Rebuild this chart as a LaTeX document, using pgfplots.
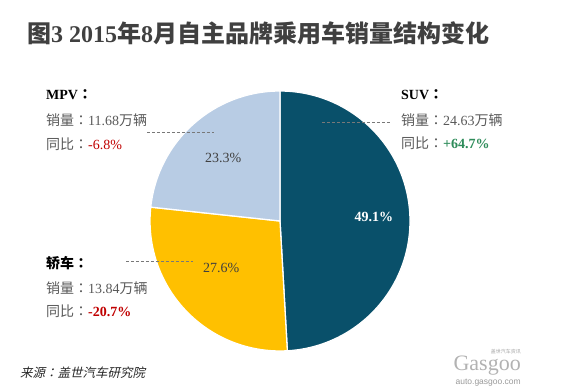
\documentclass[border=0pt]{standalone}
\usepackage{pgfplots}
\pgfplotsset{compat=1.18}
\usepackage{pgfplotstable}
\usepackage{fontspec}
\setmainfont{Liberation Serif}
\newfontfamily\cjk{Noto Sans CJK SC}
\newfontfamily\cjktc{Noto Sans CJK TC}
\newfontfamily\cjkit[FakeSlant=0.22]{Noto Sans CJK SC}
\newfontfamily\lsans{Liberation Sans}
\newcommand\cc{{\cjktc ：}}
\newcommand\ccb{{\cjktc\bfseries ：}}
\definecolor{suv}{RGB}{9,80,106}
\definecolor{car}{RGB}{255,192,0}
\definecolor{mpv}{RGB}{184,204,228}
\definecolor{titlec}{RGB}{64,64,64}
\definecolor{txtgrey}{RGB}{89,89,89}
\definecolor{negred}{RGB}{192,0,0}
\definecolor{posgreen}{RGB}{46,140,90}
\definecolor{leader}{RGB}{120,120,120}

\pgfplotstableread{
name value
SUV 49.1
Car 27.6
MPV 23.3
}\piedata

\begin{document}
\begin{tikzpicture}
\path[use as bounding box] (0bp,0bp) rectangle (583bp,391bp);
\begin{axis}[at={(280bp,170bp)}, anchor=center, hide axis, scale only axis,
  width=260bp, height=260bp, xmin=-130, xmax=130, ymin=-130, ymax=130, clip=false,
  /pgf/number format/assume math mode=true]
\pgfplotstablegetelem{0}{value}\of\piedata \let\vA\pgfplotsretval
\pgfplotstablegetelem{1}{value}\of\piedata \let\vB\pgfplotsretval
\pgfplotstablegetelem{2}{value}\of\piedata \let\vC\pgfplotsretval
\pgfmathsetmacro\aA{90}
\pgfmathsetmacro\aB{90-3.6*\vA}
\pgfmathsetmacro\aC{\aB-3.6*\vB}
\pgfmathsetmacro\aD{\aC-3.6*\vC}
\fill[suv, draw=white, line width=1.3pt] (axis cs:0,0) -- (axis cs:{130*cos(\aA)},{130*sin(\aA)}) arc[start angle=\aA, end angle=\aB, radius=130bp] -- cycle;
\fill[car, draw=white, line width=1.3pt] (axis cs:0,0) -- (axis cs:{130*cos(\aB)},{130*sin(\aB)}) arc[start angle=\aB, end angle=\aC, radius=130bp] -- cycle;
\fill[mpv, draw=white, line width=1.3pt] (axis cs:0,0) -- (axis cs:{130*cos(\aC)},{130*sin(\aC)}) arc[start angle=\aC, end angle=\aD, radius=130bp] -- cycle;
\pgfmathsetmacro\mA{(\aA+\aB)/2}
\pgfmathsetmacro\mB{(\aB+\aC)/2}
\pgfmathsetmacro\mC{(\aC+\aD)/2}
\node[text=white, font=\bfseries\fontsize{14bp}{16bp}\selectfont] at (axis cs:{94*cos(\mA)},{94*sin(\mA)+1}) {\pgfmathprintnumber[fixed,precision=1,fixed zerofill]{\vA}\%};
\node[text=titlec, font=\fontsize{14bp}{16bp}\selectfont] at (axis cs:{77*cos(\mB)-3},{77*sin(\mB)+6}) {\pgfmathprintnumber[fixed,precision=1,fixed zerofill]{\vB}\%};
\node[text=titlec, font=\fontsize{14bp}{16bp}\selectfont] at (axis cs:{85*cos(\mC)},{85*sin(\mC)}) {\pgfmathprintnumber[fixed,precision=1,fixed zerofill]{\vC}\%};
\end{axis}
% title
\node[text=titlec, font=\fontsize{24bp}{28bp}\selectfont] at (258bp,358bp)
  {{\cjk\bfseries 图}\textbf{3 2015}{\cjk\bfseries 年}\textbf{8}{\cjk\bfseries 月自主品牌乘用车销量结构变化}};
% leader lines
\draw[leader, line width=0.5pt, dash pattern=on 3pt off 2pt] (147bp,259bp) -- (214bp,259bp);
\draw[leader, line width=0.5pt, dash pattern=on 3pt off 2pt] (322bp,269bp) -- (390bp,269bp);
\draw[leader, line width=0.5pt, dash pattern=on 3pt off 2pt] (126bp,130bp) -- (193bp,130bp);
% text blocks
\begin{scope}[every node/.style={anchor=west, inner sep=0pt, font=\fontsize{14bp}{16bp}\selectfont}]
\node[text=black] at (46bp,296bp) {\textbf{MPV}\ccb};
\node[text=txtgrey] at (46bp,271bp) {{\cjk 销量}\cc 11.68{\cjk 万辆}};
\node[text=txtgrey] at (46bp,247bp) {{\cjk 同比}\cc\textcolor{negred}{-6.8\%}};
\node[text=black] at (401bp,296bp) {\textbf{SUV}\ccb};
\node[text=txtgrey] at (401bp,271bp) {{\cjk 销量}\cc 24.63{\cjk 万辆}};
\node[text=txtgrey] at (401bp,248bp) {{\cjk 同比}\cc\textcolor{posgreen}{\textbf{+64.7\%}}};
\node[text=black] at (46bp,128bp) {{\cjk\bfseries 轿车}\ccb};
\node[text=txtgrey] at (46bp,103bp) {{\cjk 销量}\cc 13.84{\cjk 万辆}};
\node[text=txtgrey] at (46bp,80bp) {{\cjk 同比}\cc\textcolor{negred}{\textbf{-20.7\%}}};
\end{scope}
% source
\node[anchor=west, inner sep=0pt, text=black!85, font=\fontsize{12.5bp}{14bp}\selectfont] at (20bp,18bp) {{\cjkit 来源}{\cjktc\addfontfeatures{FakeSlant=0.22}：}{\cjkit 盖世汽车研究院}};
% watermark
\node[anchor=east, inner sep=0pt, text=black!30, font=\fontsize{22bp}{22bp}\selectfont] at (521bp,25bp) {Gasgoo};
\node[anchor=east, inner sep=0pt, text=black!40, font=\lsans\fontsize{8.5bp}{9bp}\selectfont] at (521bp,8bp) {auto.gasgoo.com};
\node[anchor=east, inner sep=0pt, text=black!35, font=\cjk\fontsize{5bp}{6bp}\selectfont] at (521bp,39bp) {盖世汽车资讯};
\end{tikzpicture}
\end{document}
